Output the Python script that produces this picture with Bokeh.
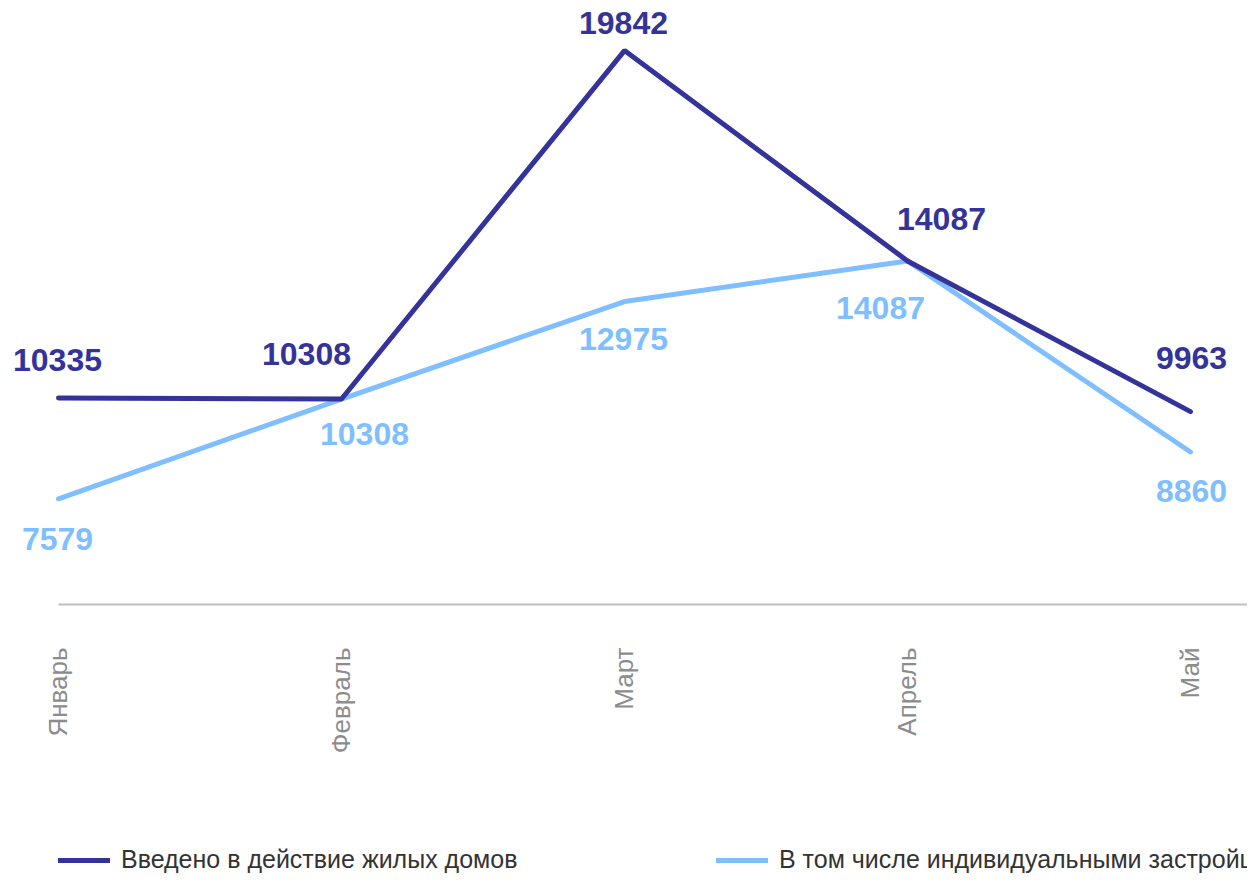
import math
from bokeh.plotting import figure
from bokeh.models import (ColumnDataSource, Range1d, FixedTicker, Legend, LegendItem)
from bokeh.core.properties import value
from bokeh.embed import file_html
from bokeh.resources import INLINE

# ---- data ----
months = ["Январь", "Февраль", "Март", "Апрель", "Май"]
total_homes = [10335, 10308, 19842, 14087, 9963]
individual_homes = [7579, 10308, 12975, 14087, 8860]
series_names = ["Введено в действие жилых домов",
                "В том числе индивидуальными застройщиками"]

# ---- style / layout ----
DARK = "#333399"
LIGHT = "#80BFFF"
FONT = "Liberation Sans"
W, H = 1247, 874
# label offsets (screen px) relative to each point
dark_dx = [-1, -35, -1, 34, 1]
dark_dy = [-38, -45, -28, -42, -54]
light_dx = [-1, 23, -1, -27, 1]
light_dy = [40, 35, 37, 47, 39]

xs = list(range(len(months)))

p = figure(width=W, height=H, output_backend="svg", toolbar_location=None,
           x_range=Range1d(-58 / 283, 1189 / 283),
           y_range=Range1d(-2700, 21212),
           x_axis_location="below", y_axis_location=None,
           min_border=0, min_border_left=0, min_border_right=0,
           min_border_top=0, min_border_bottom=0)
p.outline_line_color = None
p.xgrid.visible = False
p.ygrid.visible = False
p.background_fill_color = "white"
p.border_fill_color = "white"

ax = p.xaxis[0]
ax.fixed_location = 4687
ax.bounds = (0, 10)
ax.ticker = FixedTicker(ticks=xs)
ax.major_label_overrides = {i: m for i, m in enumerate(months)}
ax.major_label_orientation = math.pi / 2
ax.major_tick_in = 0
ax.major_tick_out = 0
ax.minor_tick_in = 0
ax.minor_tick_out = 0
ax.axis_line_color = "#BFBFBF"
ax.axis_line_width = 2
ax.major_label_standoff = 43
ax.major_label_text_font = FONT
ax.major_label_text_font_size = "26px"
ax.major_label_text_color = "#8C8C8C"

src_d = ColumnDataSource(dict(x=xs, y=total_homes,
                              t=[str(v) for v in total_homes],
                              dx=dark_dx, dy=dark_dy))
src_l = ColumnDataSource(dict(x=xs, y=individual_homes,
                              t=[str(v) for v in individual_homes],
                              dx=light_dx, dy=light_dy))

r_light = p.line("x", "y", source=src_l, line_color=LIGHT, line_width=5,
                 line_cap="round")
r_dark = p.line("x", "y", source=src_d, line_color=DARK, line_width=5,
                line_cap="round")

for src, col in ((src_d, DARK), (src_l, LIGHT)):
    p.text("x", "y", text="t", source=src, x_offset="dx", y_offset="dy",
           text_align="center", text_baseline="middle",
           text_font=value(FONT), text_font_style="bold",
           text_font_size="32px", text_color=col)

for r, name, xloc in ((r_dark, series_names[0], 58),
                      (r_light, series_names[1], 716)):
    lg = Legend(items=[LegendItem(label=name, renderers=[r])],
                location=(xloc, 0), orientation="horizontal",
                padding=0, margin=0, spacing=0,
                glyph_width=52, glyph_height=20, label_standoff=11,
                label_text_font=FONT, label_text_font_size="25px",
                label_text_color="#333333",
                border_line_color=None, background_fill_alpha=0)
    p.add_layout(lg, "center")

open("out.html", "w").write(file_html(p, INLINE))
